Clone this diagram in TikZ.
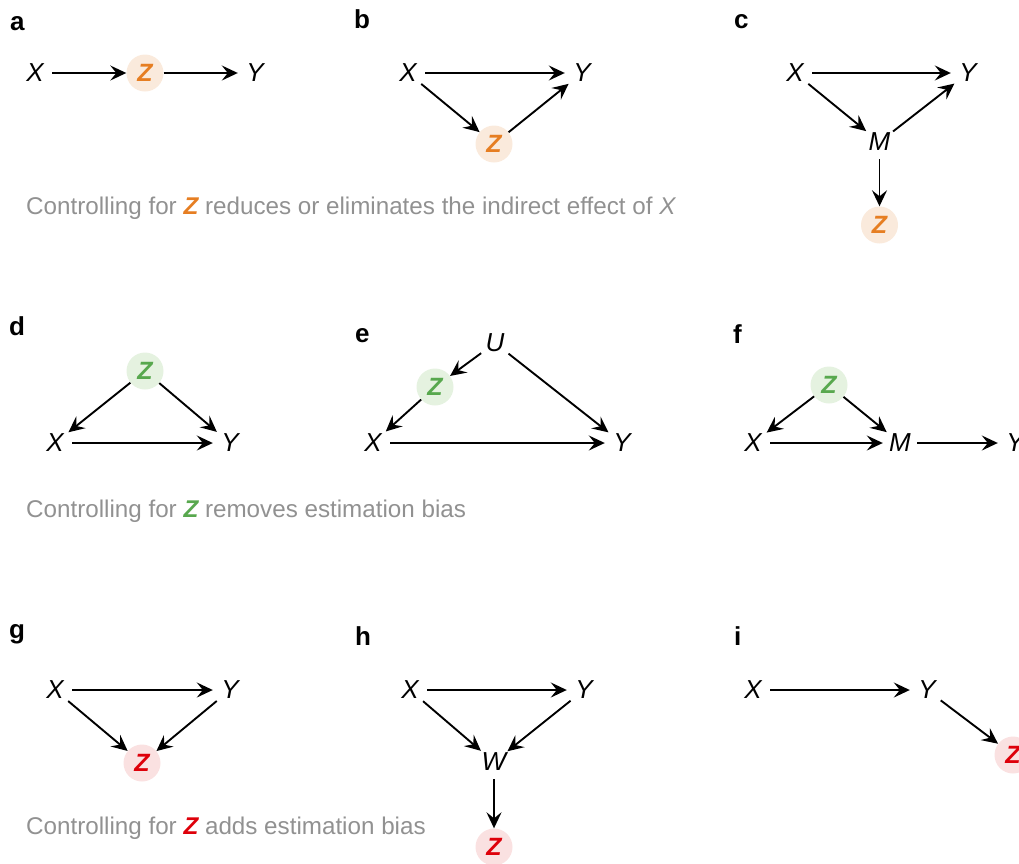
\documentclass[tikz,border=0pt]{standalone}
\usepackage{fontspec}
\setmainfont{Liberation Sans}
\usetikzlibrary{arrows.meta}
\definecolor{zor}{RGB}{230,126,34}
\definecolor{zorbg}{RGB}{250,234,220}
\definecolor{zgr}{RGB}{88,168,78}
\definecolor{zgrbg}{RGB}{229,242,224}
\definecolor{zrd}{RGB}{222,0,10}
\definecolor{zrdbg}{RGB}{250,225,225}
\definecolor{capgray}{RGB}{145,145,145}
\begin{document}
\begin{tikzpicture}[x=1pt,y=-1pt,
 var/.style={circle,minimum size=34pt,inner sep=0pt,font=\fontsize{26}{30}\selectfont\itshape},
 zvar/.style={circle,minimum size=37pt,inner sep=0pt,font=\fontsize{25}{30}\selectfont\bfseries\itshape},
 zo/.style={zvar,fill=zorbg,text=zor},
 zg/.style={zvar,fill=zgrbg,text=zgr},
 zr/.style={zvar,fill=zrdbg,text=zrd},
 arr/.style={-{Stealth[length=16pt,width=15pt,inset=6pt]},line width=1.9pt},
 lbl/.style={anchor=base west,inner sep=0pt,font=\fontsize{26}{30}\selectfont\bfseries},
 captxt/.style={anchor=base west,inner sep=0pt,text=capgray,font=\fontsize{24.2}{28}\selectfont}]
\useasboundingbox (0,0) rectangle (1019,863);
% panel labels
\node[lbl] (la) at (10,30) {a};
\node[lbl] (lb) at (354,28) {b};
\node[lbl] (lc) at (734,28) {c};
\node[lbl] (ld) at (9,335) {d};
\node[lbl] (le) at (355,342) {e};
\node[lbl] (lf) at (733,343) {f};
\node[lbl] (lg) at (9,638) {g};
\node[lbl] (lh) at (355,645) {h};
\node[lbl] (li) at (734,645) {i};
% captions
\node[captxt] (c1) at (26,214) {Controlling for {\color{zor}\bfseries\itshape Z} reduces or eliminates the indirect effect of {\itshape X}};
\node[captxt] (c2) at (26,517) {Controlling for {\color{zgr}\bfseries\itshape Z} removes estimation bias};
\node[captxt] (c3) at (26,834) {Controlling for {\color{zrd}\bfseries\itshape Z} adds estimation bias};
% panel a
\node[var] (aX) at (35,73) {X};
\node[zo] (aZ) at (145,73) {Z};
\node[var] (aY) at (255,73) {Y};
\draw[arr] (aX) -- (aZ);
\draw[arr] (aZ) -- (aY);
% panel b
\node[var] (bX) at (408,73) {X};
\node[var] (bY) at (582,73) {Y};
\node[zo] (bZ) at (494,144) {Z};
\draw[arr] (bX) -- (bY);
\draw[arr] (bX) -- (bZ);
\draw[arr] (bZ) -- (bY);
% panel c
\node[var] (cX) at (795,73) {X};
\node[var] (cY) at (968,73) {Y};
\node[var] (cM) at (879.5,142) {M};
\node[zo] (cZ) at (879.5,225) {Z};
\draw[arr] (cX) -- (cY);
\draw[arr] (cX) -- (cM);
\draw[arr] (cM) -- (cY);
\draw[arr] (cM) -- (cZ);
% panel d
\node[zg] (dZ) at (145,371) {Z};
\node[var] (dX) at (55,443) {X};
\node[var] (dY) at (230,443) {Y};
\draw[arr] (dZ) -- (dX);
\draw[arr] (dZ) -- (dY);
\draw[arr] (dX) -- (dY);
% panel e
\node[var] (eU) at (495,343) {U};
\node[zg] (eZ) at (435,387) {Z};
\node[var] (eX) at (373,443) {X};
\node[var] (eY) at (622,443) {Y};
\draw[arr] (eU) -- (eZ);
\draw[arr] (eZ) -- (eX);
\draw[arr] (eU) -- (eY);
\draw[arr] (eX) -- (eY);
% panel f
\node[zg] (fZ) at (829,385) {Z};
\node[var] (fX) at (753,443) {X};
\node[var] (fM) at (900,443) {M};
\node[var] (fY) at (1015,443) {Y};
\draw[arr] (fZ) -- (fX);
\draw[arr] (fZ) -- (fM);
\draw[arr] (fX) -- (fM);
\draw[arr] (fM) -- (fY);
% panel g
\node[var] (gX) at (55,690) {X};
\node[var] (gY) at (230,690) {Y};
\node[zr] (gZ) at (142,763) {Z};
\draw[arr] (gX) -- (gY);
\draw[arr] (gX) -- (gZ);
\draw[arr] (gY) -- (gZ);
% panel h
\node[var] (hX) at (410,690) {X};
\node[var] (hY) at (584,690) {Y};
\node[var] (hW) at (494,762) {W};
\node[zr] (hZ) at (494,847) {Z};
\draw[arr] (hX) -- (hY);
\draw[arr] (hX) -- (hW);
\draw[arr] (hY) -- (hW);
\draw[arr] (hW) -- (hZ);
% panel i
\node[var] (iX) at (753,690) {X};
\node[var] (iY) at (927,690) {Y};
\node[zr] (iZ) at (1013,755) {Z};
\draw[arr] (iX) -- (iY);
\draw[arr] (iY) -- (iZ);
\end{tikzpicture}
\end{document}
